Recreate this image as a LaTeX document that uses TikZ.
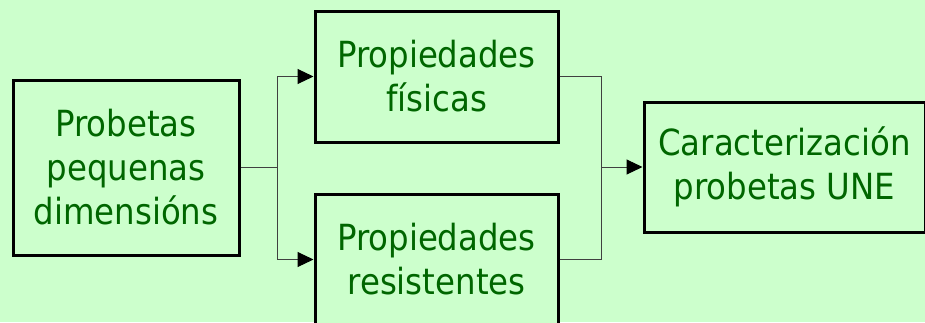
\documentclass[tikz,border=0pt]{standalone}
\usepackage{fontspec}
\setmainfont{DejaVu Sans Condensed}
\usetikzlibrary{arrows.meta}
\definecolor{bg}{RGB}{204,255,204}
\definecolor{txt}{RGB}{0,102,0}
\definecolor{conn}{RGB}{64,64,64}
\tikzset{
  box/.style={draw=black, line width=3pt, fill=bg, text=txt, align=center,
    inner sep=0pt, font=\fontsize{36}{44}\selectfont},
  conline/.style={draw=conn, line width=1pt},
  arr/.style={conline, -{Triangle[length=16pt,width=15pt,fill=black,color=black]}}
}
\begin{document}
\begin{tikzpicture}[x=1pt,y=-1pt]
\fill[bg] (0,0) rectangle (925,322);
\useasboundingbox (0,0) rectangle (925,322);
\node[box, minimum width=226pt, minimum height=175pt] (a) at (126,167.5) {Probetas\\pequenas\\dimensións};
\node[box, minimum width=243pt, minimum height=131pt] (b) at (436.5,76.5) {Propiedades\\físicas};
\node[box, minimum width=243pt, minimum height=131pt] (c) at (436.5,259.5) {Propiedades\\resistentes};
\node[box, minimum width=281pt, minimum height=130pt] (d) at (784.5,167) {Caracterización\\probetas UNE};
\coordinate (j1) at (277,167.5);
\coordinate (j2) at (601,167);
\draw[conline] (a.east) -- (j1);
\draw[arr] (j1) |- (b.west);
\draw[arr] (j1) |- (c.west);
\draw[conline] (b.east) -| (j2);
\draw[conline] (c.east) -| (j2);
\draw[arr] (j2) -- (d.west);
\end{tikzpicture}
\end{document}
